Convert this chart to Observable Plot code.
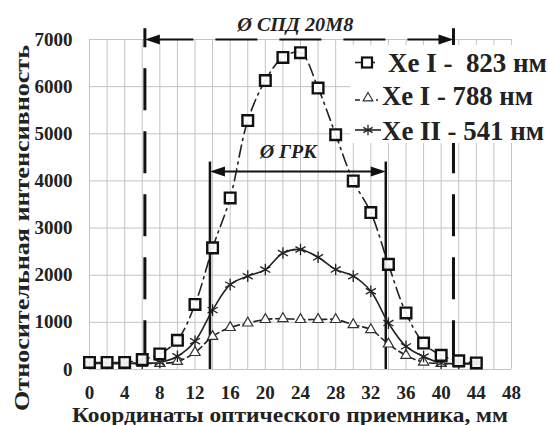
<!DOCTYPE html>
<html>
<head>
<meta charset="utf-8">
<script src="https://cdn.jsdelivr.net/npm/d3@7"></script>
<script src="https://cdn.jsdelivr.net/npm/@observablehq/plot@0.6"></script>
<style>
  html, body { margin: 0; padding: 0; background: #fff; }
  #chart { position: relative; width: 548px; height: 425px; }
  svg text { font-family: "Liberation Serif", "Times New Roman", serif; }
</style>
</head>
<body>
<div id="chart"></div>
<script>
// ---- data ----
const coords = [0, 2, 4, 6, 8, 10, 12, 14, 16, 18, 20, 22, 24, 26, 28, 30, 32, 34, 36, 38, 40, 42, 44];
const xe823 = [150, 150, 150, 210, 330, 620, 1380, 2580, 3640, 5280, 6130, 6620, 6720, 5970, 4980, 4000, 3330, 2230, 1200, 560, 300, 185, 140];
const xe788 = [130, 130, 130, 130, 130, 170, 360, 700, 890, 985, 1060, 1080, 1060, 1060, 1060, 950, 845, 540, 300, 155, 130, 120, 120];
const xe541 = [130, 130, 130, 135, 150, 280, 600, 1260, 1800, 1980, 2120, 2470, 2545, 2380, 2120, 1980, 1660, 985, 490, 275, 135, 130, 130];
const seriesNames = ["Xe I -  823 нм", "Xe I - 788 нм", "Xe II - 541 нм"];
const xTicks = [0, 4, 8, 12, 16, 20, 24, 28, 32, 36, 40, 44, 48];
const yTicks = [0, 1000, 2000, 3000, 4000, 5000, 6000, 7000];
const spdBounds = [6.3, 41.4];   // Ø СПД 20М8 boundaries, mm
const grkBounds = [13.7, 33.7];  // Ø ГРК boundaries, mm
const spdLabel = "Ø СПД 20М8";
const grkLabel = "Ø ГРК";
const spdArrowY = 7000, grkArrowY = 4200;
const xLabel = "Координаты оптического приемника, мм";
const yLabel = "Относительная интенсивность";

const rows = (vals) => coords.map((x, i) => ({x, y: vals[i]}));
const d823 = rows(xe823), d788 = rows(xe788), d541 = rows(xe541);

// arrowhead symbols (tip at origin)
const headL = {draw(ctx, size) { ctx.moveTo(0, 0); ctx.lineTo(15, -5); ctx.lineTo(15, 5); ctx.closePath(); }};
const headR = {draw(ctx, size) { ctx.moveTo(0, 0); ctx.lineTo(-15, -5); ctx.lineTo(-15, 5); ctx.closePath(); }};

const chart = Plot.plot({
  width: 548,
  height: 425,
  marginLeft: 89,
  marginRight: 37,
  marginTop: 39,
  marginBottom: 56,
  x: {domain: [0, 48]},
  y: {domain: [0, 7000]},
  style: {background: "#fff", fontFamily: "Liberation Serif"},
  marks: [
    Plot.gridX(d3.range(0, 49, 2), {stroke: "#c4c4c4", strokeOpacity: 1, strokeWidth: 1}),
    Plot.gridY(yTicks, {stroke: "#c4c4c4", strokeOpacity: 1, strokeWidth: 1}),
    Plot.axisX(xTicks, {tickSize: 0, tickPadding: 16, fontSize: 19, fontWeight: "bold", label: null, fill: "#222"}),
    Plot.axisY(yTicks, {tickSize: 0, tickPadding: 17, fontSize: 19, fontWeight: "bold", label: null, fill: "#222", tickFormat: d => String(d)}),
    // boundary lines
    Plot.ruleX(spdBounds, {y1: 7230, y2: -85, stroke: "#111", strokeWidth: 3, strokeDasharray: "42,21", strokeDashoffset: 23}),
    Plot.ruleX(grkBounds, {y1: 0, y2: 4400, stroke: "#111", strokeWidth: 2.5}),
    // СПД arrow
    Plot.ruleY([spdArrowY], {x1: spdBounds[0] + 0.8, x2: spdBounds[1] - 0.8, stroke: "#111", strokeWidth: 2, strokeDasharray: "42,22"}),
    Plot.dot([{x: spdBounds[0], y: spdArrowY}], {x: "x", y: "y", symbol: headL, r: 1, fill: "#111", stroke: "none"}),
    Plot.dot([{x: spdBounds[1], y: spdArrowY}], {x: "x", y: "y", symbol: headR, r: 1, fill: "#111", stroke: "none"}),
    Plot.text([spdLabel], {x: 23.4, y: 7170, text: d => d, fontSize: 19, fontWeight: "bold", fontStyle: "italic", lineAnchor: "bottom", fill: "#222"}),
    // ГРК arrow
    Plot.ruleY([grkArrowY], {x1: grkBounds[0] + 1, x2: grkBounds[1] - 1, stroke: "#111", strokeWidth: 2}),
    Plot.dot([{x: grkBounds[0], y: grkArrowY}], {x: "x", y: "y", symbol: headL, r: 1, fill: "#111", stroke: "none"}),
    Plot.dot([{x: grkBounds[1], y: grkArrowY}], {x: "x", y: "y", symbol: headR, r: 1, fill: "#111", stroke: "none"}),
    Plot.text([grkLabel], {x: 22.6, y: 4480, text: d => d, fontSize: 18, fontWeight: "bold", fontStyle: "italic", lineAnchor: "bottom", fill: "#222"}),
    // series lines
    Plot.line(d823, {x: "x", y: "y", curve: "catmull-rom", stroke: "#222", strokeWidth: 1.6, strokeDasharray: "12,5,2,5"}),
    Plot.line(d788, {x: "x", y: "y", curve: "catmull-rom", stroke: "#222", strokeWidth: 1.6, strokeDasharray: "7,4"}),
    Plot.line(d541, {x: "x", y: "y", curve: "catmull-rom", stroke: "#222", strokeWidth: 1.6}),
    // markers
    Plot.dot(d788, {x: "x", y: "y", symbol: "triangle", r: 3.8, fill: "#fff", stroke: "#333", strokeWidth: 1.2}),
    Plot.dot(d541, {x: "x", y: "y", symbol: "asterisk", r: 5.5, stroke: "#222", strokeWidth: 1.3}),
    Plot.dot(d823, {x: "x", y: "y", symbol: "square", r: 6, fill: "#fff", fillOpacity: 0.9, stroke: "#111", strokeWidth: 2.4})
  ]
});
document.getElementById("chart").appendChild(chart);

const svg = d3.select(chart);

// stretch the annotation labels to the reference widths
svg.selectAll("text").filter(function() { return this.textContent === spdLabel; })
  .attr("textLength", 116).attr("lengthAdjust", "spacingAndGlyphs");
svg.selectAll("text").filter(function() { return this.textContent === grkLabel; })
  .attr("textLength", 57).attr("lengthAdjust", "spacingAndGlyphs");

// axis titles
svg.append("text").attr("x", 290).attr("y", 422).attr("text-anchor", "middle")
  .attr("font-size", 20).attr("font-weight", "bold").attr("fill", "#222")
  .attr("textLength", 436).attr("lengthAdjust", "spacingAndGlyphs").text(xLabel);
svg.append("text").attr("transform", "translate(29,228) rotate(-90)").attr("text-anchor", "middle")
  .attr("font-size", 22).attr("font-weight", "bold").attr("fill", "#222")
  .attr("textLength", 366).attr("lengthAdjust", "spacingAndGlyphs").text(yLabel);

// legend drawn inside the same svg
const lg = svg.append("g").attr("font-family", "Liberation Serif").attr("font-weight", "bold");
lg.append("rect").attr("x", 350).attr("y", 45).attr("width", 198).attr("height", 98).attr("fill", "#fff");
const symY = [62.5, 98, 130];
const baseY = [72, 105, 140];
const textX = [388, 382, 382];
const textW = [159, 151, 162];
seriesNames.forEach((name, i) => {
  const cy = symY[i];
  if (i === 0) {
    lg.append("line").attr("x1", 355).attr("x2", 375).attr("y1", cy).attr("y2", cy).attr("stroke", "#222").attr("stroke-width", 1.6);
    lg.append("rect").attr("x", 362).attr("y", cy - 5).attr("width", 10).attr("height", 10).attr("fill", "#fff").attr("stroke", "#111").attr("stroke-width", 2.2);
  } else if (i === 1) {
    lg.append("line").attr("x1", 355).attr("x2", 381).attr("y1", cy + 2).attr("y2", cy + 2).attr("stroke", "#222").attr("stroke-width", 1.6).attr("stroke-dasharray", "5,3,2,3");
    lg.append("path").attr("d", d3.symbol(d3.symbolTriangle, 40)()).attr("transform", `translate(368,${cy})`).attr("fill", "#fff").attr("stroke", "#333").attr("stroke-width", 1.2);
  } else {
    lg.append("line").attr("x1", 355).attr("x2", 381).attr("y1", cy).attr("y2", cy).attr("stroke", "#222").attr("stroke-width", 1.6);
    lg.append("path").attr("d", d3.symbol(d3.symbolAsterisk, 80)()).attr("transform", `translate(368,${cy})`).attr("fill", "none").attr("stroke", "#222").attr("stroke-width", 1.3);
  }
  lg.append("text").attr("x", textX[i]).attr("y", baseY[i]).attr("font-size", 27).attr("fill", "#222")
    .attr("text-anchor", "start").attr("xml:space", "preserve").style("white-space", "pre")
    .attr("textLength", textW[i]).attr("lengthAdjust", "spacingAndGlyphs").text(name);
});
</script>
</body>
</html>
